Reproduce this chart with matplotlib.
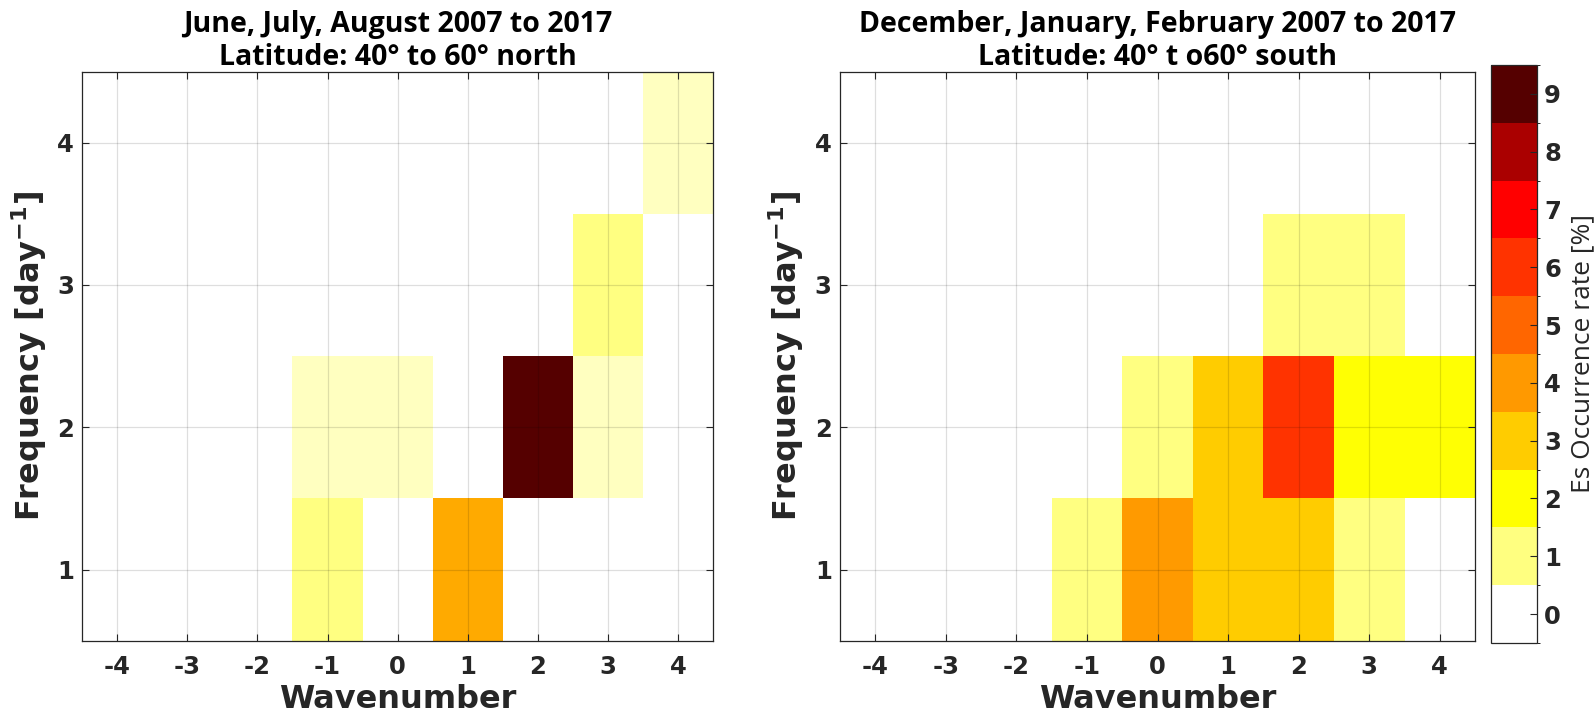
import numpy as np
import matplotlib
matplotlib.use("Agg")
import matplotlib.pyplot as plt
from matplotlib.colors import ListedColormap, LinearSegmentedColormap, BoundaryNorm, Normalize
from matplotlib.cm import ScalarMappable

# Data
wavenumbers = [-4, -3, -2, -1, 0, 1, 2, 3, 4]
frequencies = [1, 2, 3, 4]

# rows = frequency 1..4, columns = wavenumber -4..4
rate_north = np.array([
    [0, 0, 0, 1.0, 0, 3.67, 0, 0, 0],
    [0, 0, 0, 0.5, 0.5, 0, 9.0, 0.5, 0],
    [0, 0, 0, 0, 0, 0, 0, 1.0, 0],
    [0, 0, 0, 0, 0, 0, 0, 0, 0.5],
])
rate_south = np.array([
    [0, 0, 0, 1, 4, 3, 3, 1, 0],
    [0, 0, 0, 0, 1, 3, 6, 2, 2],
    [0, 0, 0, 0, 0, 0, 1, 1, 0],
    [0, 0, 0, 0, 0, 0, 0, 0, 0],
])

titles = ["June, July, August 2007 to 2017\nLatitude: 40° to 60° north",
          "December, January, February 2007 to 2017\nLatitude: 40° t o60° south"]

level_colors = ["#ffffff", "#ffff80", "#ffff00", "#ffcc00", "#ff9900",
                "#ff6600", "#ff3300", "#ff0000", "#aa0000", "#550000"]
levels = list(range(10))

# continuous map through the level colours for the cells, discrete bands for the bar
cmap_cells = LinearSegmentedColormap.from_list(
    "es", [(l / 9, c) for l, c in zip(levels, level_colors)])
cmap_bar = ListedColormap(level_colors)
norm_bar = BoundaryNorm(np.arange(-0.5, 10.5, 1), cmap_bar.N)

tick_font = dict(family="DejaVu Sans", weight="bold", size=17.5)
label_col = "#262626"

fig = plt.figure(figsize=(15.94, 7.18), dpi=100)
ax1 = fig.add_axes([0.0516, 0.1077, 0.3957, 0.7926])
ax2 = fig.add_axes([0.527, 0.1077, 0.3984, 0.7926])
cax = fig.add_axes([0.9354, 0.1045, 0.0289, 0.805])

for ax, data, title in zip([ax1, ax2], [rate_north, rate_south], titles):
    ax.pcolormesh(np.arange(-4.5, 5, 1), np.arange(0.5, 5, 1), data,
                  cmap=cmap_cells, norm=Normalize(0, 9), shading="flat")
    ax.set_xlim(-4.5, 4.5)
    ax.set_ylim(0.5, 4.5)
    ax.set_xticks(wavenumbers)
    ax.set_yticks(frequencies)
    ax.set_xticklabels([str(w) for w in wavenumbers], **tick_font, color=label_col)
    ax.set_yticklabels([str(f) for f in frequencies], **tick_font, color=label_col)
    ax.tick_params(direction="in", length=5, width=0.8, top=True, right=True,
                   color="#262626")
    ax.tick_params(axis="x", pad=10)
    ax.tick_params(axis="y", pad=6)
    ax.set_axisbelow(False)
    ax.grid(True, color="black", alpha=0.13, linewidth=0.9)
    for s in ax.spines.values():
        s.set_color("#262626")
        s.set_linewidth(0.9)
    ax.set_xlabel("Wavenumber", family="DejaVu Sans", weight="bold",
                  size=23, color=label_col, labelpad=4)
    ax.set_ylabel("Frequency [day$^{\\mathbf{-1}}$]", family="DejaVu Sans",
                  weight="bold", size=23, color=label_col, labelpad=6)
    ax.set_title(title, family="Open Sans", weight="bold", size=20.5,
                 color="black", pad=5, linespacing=1.15)

sm = ScalarMappable(norm=norm_bar, cmap=cmap_bar)
cb = fig.colorbar(sm, cax=cax, ticks=levels)
cb.ax.set_yticklabels([str(l) for l in levels], **tick_font, color=label_col)
cb.ax.tick_params(direction="in", length=5, width=0.8, color="#262626", pad=5)
cb.outline.set_edgecolor("#262626")
cb.outline.set_linewidth(0.9)
cb.set_label("Es Occurrence rate [%]", family="Open Sans", weight="medium",
             size=19, color=label_col, labelpad=7)

fig.savefig("out.png", dpi=100)
